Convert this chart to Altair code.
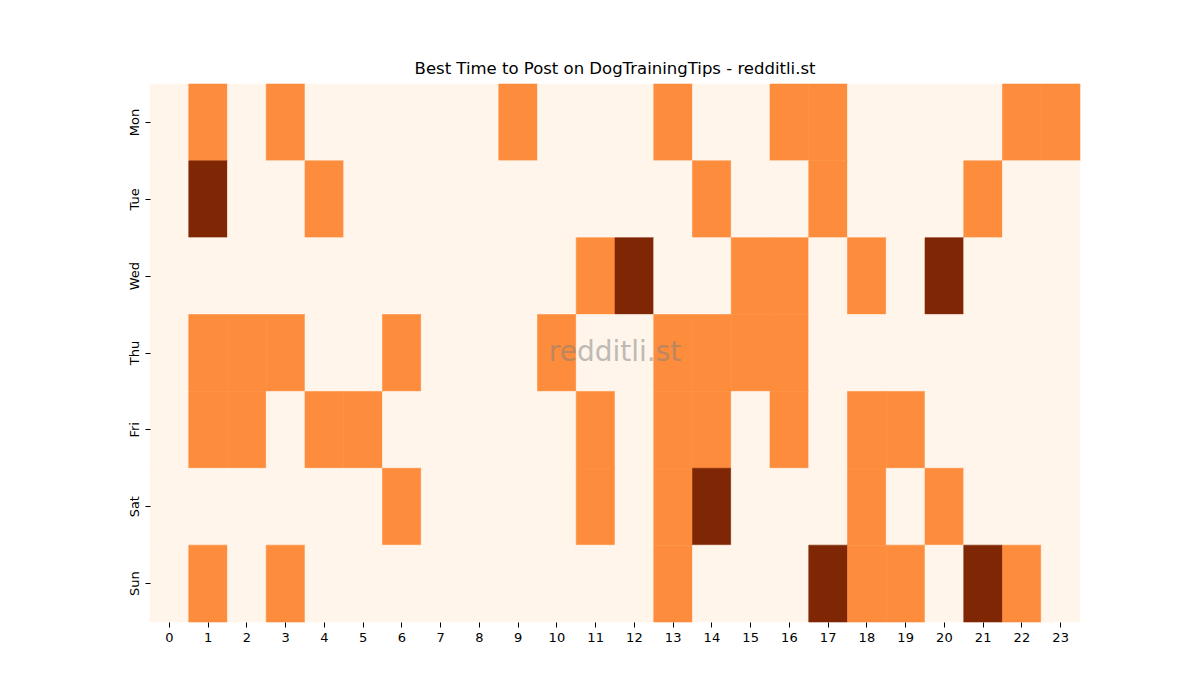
import altair as alt
import pandas as pd

days = ["Mon", "Tue", "Wed", "Thu", "Fri", "Sat", "Sun"]
hours = list(range(24))

# activity level per day (0 = low, 1 = medium, 2 = high), by hour 0..23
mon = [0,1,0,1,0,0,0,0,0,1,0,0,0,1,0,0,1,1,0,0,0,0,1,1]
tue = [0,2,0,0,1,0,0,0,0,0,0,0,0,0,1,0,0,1,0,0,0,1,0,0]
wed = [0,0,0,0,0,0,0,0,0,0,0,1,2,0,0,1,1,0,1,0,2,0,0,0]
thu = [0,1,1,1,0,0,1,0,0,0,1,0,0,1,1,1,1,0,0,0,0,0,0,0]
fri = [0,1,1,0,1,1,0,0,0,0,0,1,0,1,1,0,1,0,1,1,0,0,0,0]
sat = [0,0,0,0,0,0,1,0,0,0,0,1,0,1,2,0,0,0,1,0,1,0,0,0]
sun = [0,1,0,1,0,0,0,0,0,0,0,0,0,1,0,0,0,2,1,1,0,2,1,0]

levels = [0, 1, 2]
level_colors = ["#fff5eb", "#fd8d3c", "#7f2704"]

title_text = "Best Time to Post on DogTrainingTips - redditli.st"
watermark_text = "redditli.st"

rows = []
for d, vals in zip(days, [mon, tue, wed, thu, fri, sat, sun]):
    for h, v in zip(hours, vals):
        rows.append({"day": d, "hour": h, "value": v})
df = pd.DataFrame(rows)

FONT = "DejaVu Sans"
color_scale = alt.Scale(domain=levels, range=level_colors)

heat = alt.Chart(df).mark_rect(strokeWidth=0.6).encode(
    x=alt.X("hour:O", sort=hours, title=None,
            axis=alt.Axis(labelAngle=0, labelFontSize=13, labelColor="black",
                          labelFont=FONT, tickColor="black", tickSize=5,
                          domain=False, labelPadding=4)),
    y=alt.Y("day:O", sort=days, title=None,
            axis=alt.Axis(labelAngle=270, labelFontSize=13, labelColor="black",
                          labelFont=FONT, tickColor="black", tickSize=5,
                          domain=False, labelAlign="center", labelBaseline="bottom",
                          labelPadding=4)),
    color=alt.Color("value:O", scale=color_scale, legend=None),
    stroke=alt.Stroke("value:O", scale=color_scale, legend=None),
)

wm = alt.Chart(pd.DataFrame({"t": [watermark_text]})).mark_text(
    fontSize=28, font=FONT, color="gray", opacity=0.5,
    align="center", baseline="middle"
).encode(
    text="t:N",
    x=alt.value(465),
    y=alt.value(269),
)

chart = alt.layer(heat, wm).properties(
    width=930,
    height=538,
    title=alt.TitleParams(title_text, fontSize=16.5, font=FONT, fontWeight="normal",
                          color="black", anchor="middle", offset=6),
    padding={"left": 142, "top": 76, "right": 112, "bottom": 70},
    autosize="none",
).configure_view(stroke=None).configure_axis(grid=False)

chart.save("out.html", embed_options={"renderer": "svg", "actions": False})
